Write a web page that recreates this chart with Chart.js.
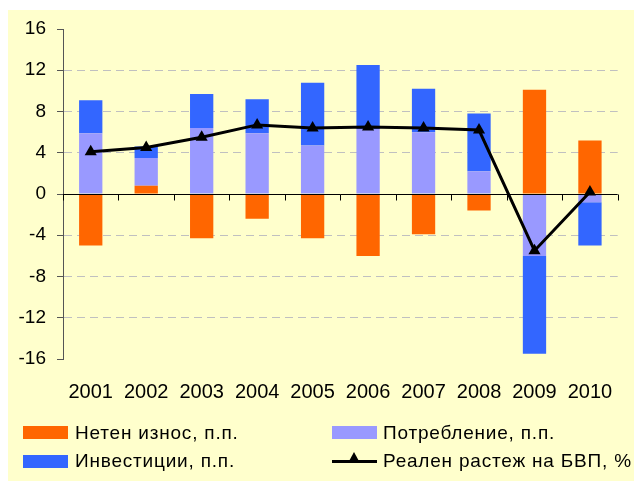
<!DOCTYPE html>
<html>
<head>
<meta charset="utf-8">
<script src="https://cdn.jsdelivr.net/npm/chart.js@4.4.0/dist/chart.umd.min.js"></script>
<style>
  html, body { margin: 0; padding: 0; background: #fff; }
  body { width: 634px; height: 481px; position: relative; overflow: hidden; font-family: "Liberation Sans", Arial, sans-serif; }
  #panel { position: absolute; left: 8px; top: 10px; width: 626px; height: 471px; background: #FFFFCC; }
  #wrap { position: absolute; left: 0; top: 0; width: 634px; height: 481px; }
  .leg { position: absolute; font-size: 19px; letter-spacing: 0.8px; color: #000; white-space: nowrap; line-height: 20px; }
  .sw { position: absolute; width: 45px; height: 13px; }
  .ln { position: absolute; width: 45px; height: 3px; background: #000; }
  .tri { position: absolute; left: 16px; top: -8px; width: 0; height: 0; border-left: 6px solid transparent; border-right: 6px solid transparent; border-bottom: 11px solid #000; }
</style>
</head>
<body>
<div id="panel"></div>
<div id="wrap"><canvas id="chart" width="634" height="481"></canvas></div>
<div id="legend"></div>
<script>
// Данни
const years = ["2001", "2002", "2003", "2004", "2005", "2006", "2007", "2008", "2009", "2010"];
const netExports = [-5.0, 0.8, -4.3, -2.4, -4.3, -6.0, -3.9, -1.6, 10.1, 5.2];
const consumption = [5.9, 2.7, 6.4, 5.9, 4.7, 6.3, 6.0, 2.2, -6.0, -0.8];
const investment = [3.2, 1.1, 3.3, 3.3, 6.1, 6.2, 4.2, 5.6, -9.5, -4.2];
const gdpGrowth = [4.1, 4.5, 5.5, 6.7, 6.4, 6.5, 6.4, 6.2, -5.5, 0.2];
const seriesNames = ["Нетен износ, п.п.", "Потребление, п.п.", "Инвестиции, п.п.", "Реален растеж на БВП, %"];
const yTicks = [16, 12, 8, 4, 0, -4, -8, -12, -16];

const family = "'Liberation Sans', Arial, sans-serif";

// оста при 0 и деленията по категориите
const zeroAxis = {
  id: "zeroAxis",
  beforeDatasetDraw(chart, args) {
    if (args.meta.type !== "line") return;
    const { ctx, scales } = chart;
    const x = scales.x, y = scales.y;
    const y0 = Math.round(y.getPixelForValue(0)) + 0.5;
    ctx.save();
    ctx.strokeStyle = "#000";
    ctx.lineWidth = 1;
    ctx.beginPath();
    ctx.moveTo(x.left, y0);
    ctx.lineTo(x.right, y0);
    const step = (x.right - x.left) / years.length;
    for (let i = 0; i <= years.length; i++) {
      const px = Math.round(x.left + i * step) + 0.5;
      ctx.moveTo(px, y0);
      ctx.lineTo(px, y0 + 6);
    }
    ctx.stroke();
    ctx.restore();
  }
};

const config = {
  type: "bar",
  data: {
    labels: years,
    datasets: [
      { type: "bar", label: seriesNames[0], data: netExports, backgroundColor: "#FF6600", borderWidth: 0, stack: "gdp", order: 1 },
      { type: "bar", label: seriesNames[1], data: consumption, backgroundColor: "#9999FF", borderWidth: 0, stack: "gdp", order: 1 },
      { type: "bar", label: seriesNames[2], data: investment, backgroundColor: "#3366FF", borderWidth: 0, stack: "gdp", order: 1 },
      {
        type: "line", label: seriesNames[3], data: gdpGrowth, stack: "line", order: 0,
        borderColor: "#000", borderWidth: 3, pointStyle: "triangle", pointRadius: 7,
        pointBackgroundColor: "#000", pointBorderColor: "#000", pointBorderWidth: 0, tension: 0
      }
    ]
  },
  options: {
    responsive: false,
    animation: false,
    layout: { padding: { left: 0, right: 16, top: 29, bottom: 0 } },
    datasets: { bar: { categoryPercentage: 1, barPercentage: 0.42 } },
    plugins: { legend: { display: false }, tooltip: { enabled: false } },
    scales: {
      x: {
        stacked: true,
        offset: true,
        grid: { display: false, drawTicks: false },
        border: { display: false },
        ticks: { color: "#000", font: { family: family, size: 20 }, padding: 21, maxRotation: 0 },
        afterFit(scale) { scale.height = 122; }
      },
      y: {
        stacked: true,
        min: -16,
        max: 16,
        afterBuildTicks(scale) { scale.ticks = yTicks.map(v => ({ value: v })); },
        ticks: { color: "#000", font: { family: family, size: 19 }, padding: 11 },
        grid: {
          color: c => (c.tick && (c.tick.value === 0 || Math.abs(c.tick.value) === 16)) ? "rgba(0,0,0,0)" : "#C0C0C0",
          lineWidth: 1,
          drawTicks: true,
          tickLength: 6,
          tickColor: "#555",
          tickBorderDash: []
        },
        border: { display: true, color: "#555", width: 1, dash: [8, 5] },
        afterFit(scale) { scale.width = 63; }
      }
    }
  },
  plugins: [zeroAxis]
};

const ctx = document.getElementById("chart").getContext("2d");
const chart = new Chart(ctx, config);

// легенда
const legend = document.getElementById("legend");
const legendPos = [
  { x: 23, y: 426, tx: 75, ty: 423 },
  { x: 332, y: 426, tx: 383, ty: 423 },
  { x: 23, y: 455, tx: 75, ty: 451 },
  { x: 332, y: 460, tx: 383, ty: 451 }
];
config.data.datasets.forEach((ds, i) => {
  const p = legendPos[i];
  if (ds.type === "line") {
    legend.innerHTML += `<div class="ln" style="left:${p.x}px;top:${p.y}px"><div class="tri"></div></div>`;
  } else {
    legend.innerHTML += `<div class="sw" style="left:${p.x}px;top:${p.y}px;background:${ds.backgroundColor}"></div>`;
  }
  legend.innerHTML += `<div class="leg" style="left:${p.tx}px;top:${p.ty}px">${ds.label}</div>`;
});
</script>
</body>
</html>
